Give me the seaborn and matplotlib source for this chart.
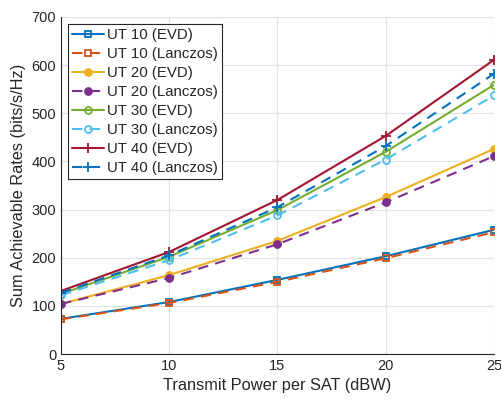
import matplotlib
matplotlib.use("Agg")
import matplotlib.pyplot as plt
import seaborn as sns
import pandas as pd

power = [5, 10, 15, 20, 25]
ut10_evd = [73, 108, 154, 203, 258]
ut10_lan = [72, 106, 150, 199, 253]
ut20_evd = [104, 164, 235, 326, 426]
ut20_lan = [104, 158, 228, 315, 411]
ut30_evd = [125, 202, 299, 420, 559]
ut30_lan = [122, 195, 288, 404, 537]
ut40_evd = [131, 212, 320, 453, 611]
ut40_lan = [127, 205, 305, 432, 582]

labels = ["UT 10 (EVD)", "UT 10 (Lanczos)", "UT 20 (EVD)", "UT 20 (Lanczos)",
          "UT 30 (EVD)", "UT 30 (Lanczos)", "UT 40 (EVD)", "UT 40 (Lanczos)"]
series = [ut10_evd, ut10_lan, ut20_evd, ut20_lan, ut30_evd, ut30_lan, ut40_evd, ut40_lan]
colors = ["#0072BD", "#D95319", "#EDB120", "#7E2F8E", "#77AC30", "#4DBEEE", "#A2142F", "#0072BD"]
markers = ["s", "s", "o", "o", "o", "o", "+", "+"]
filled = [False, False, True, True, False, False, True, True]
dashed = [False, True, False, True, False, True, False, True]

sns.set_style("white")
plt.rcParams['font.family'] = ['Liberation Sans', 'DejaVu Sans']

fig = plt.figure(figsize=(5.02, 4.0), dpi=100)
ax = fig.add_axes([0.1215, 0.115, 0.8625, 0.8425])

for lab, vals, c, m, f, d in zip(labels, series, colors, markers, filled, dashed):
    df = pd.DataFrame({"x": power, "y": vals})
    kw = dict(marker=m, markersize=5 if m != "+" else 7, markeredgewidth=1.3,
              markeredgecolor=c)
    if m != "+":
        kw["markerfacecolor"] = c if f else "none"
    sns.lineplot(data=df, x="x", y="y", ax=ax, color=c, linewidth=1.5,
                 linestyle=(0, (5, 3.5)) if d else "-", label=lab, **kw)

ax.set_xlim(5, 25)
ax.set_ylim(0, 700)
ax.set_xticks([5, 10, 15, 20, 25])
ax.set_yticks(range(0, 701, 100))
ax.grid(True, color="#e3e3e3", linewidth=0.9)
ax.set_axisbelow(True)
ax.spines["top"].set_visible(False)
ax.spines["right"].set_visible(False)
for s in ["left", "bottom"]:
    ax.spines[s].set_color("#262626")
    ax.spines[s].set_linewidth(0.8)
ax.tick_params(axis="both", labelsize=10.5, colors="#262626", direction="in", length=4)
ax.set_xlabel("Transmit Power per SAT (dBW)", fontsize=11.8, color="#262626")
ax.set_ylabel("Sum Achievable Rates (bits/s/Hz)", fontsize=11.8, color="#262626")

leg = ax.legend(loc="upper left", fontsize=10.8, frameon=True, fancybox=False,
                edgecolor="#262626", handlelength=2.1, borderaxespad=0.45,
                labelspacing=0.33, handletextpad=0.2, borderpad=0.3)
leg.get_frame().set_linewidth(0.8)
leg.get_frame().set_alpha(1)

fig.savefig("out.png", dpi=100)
